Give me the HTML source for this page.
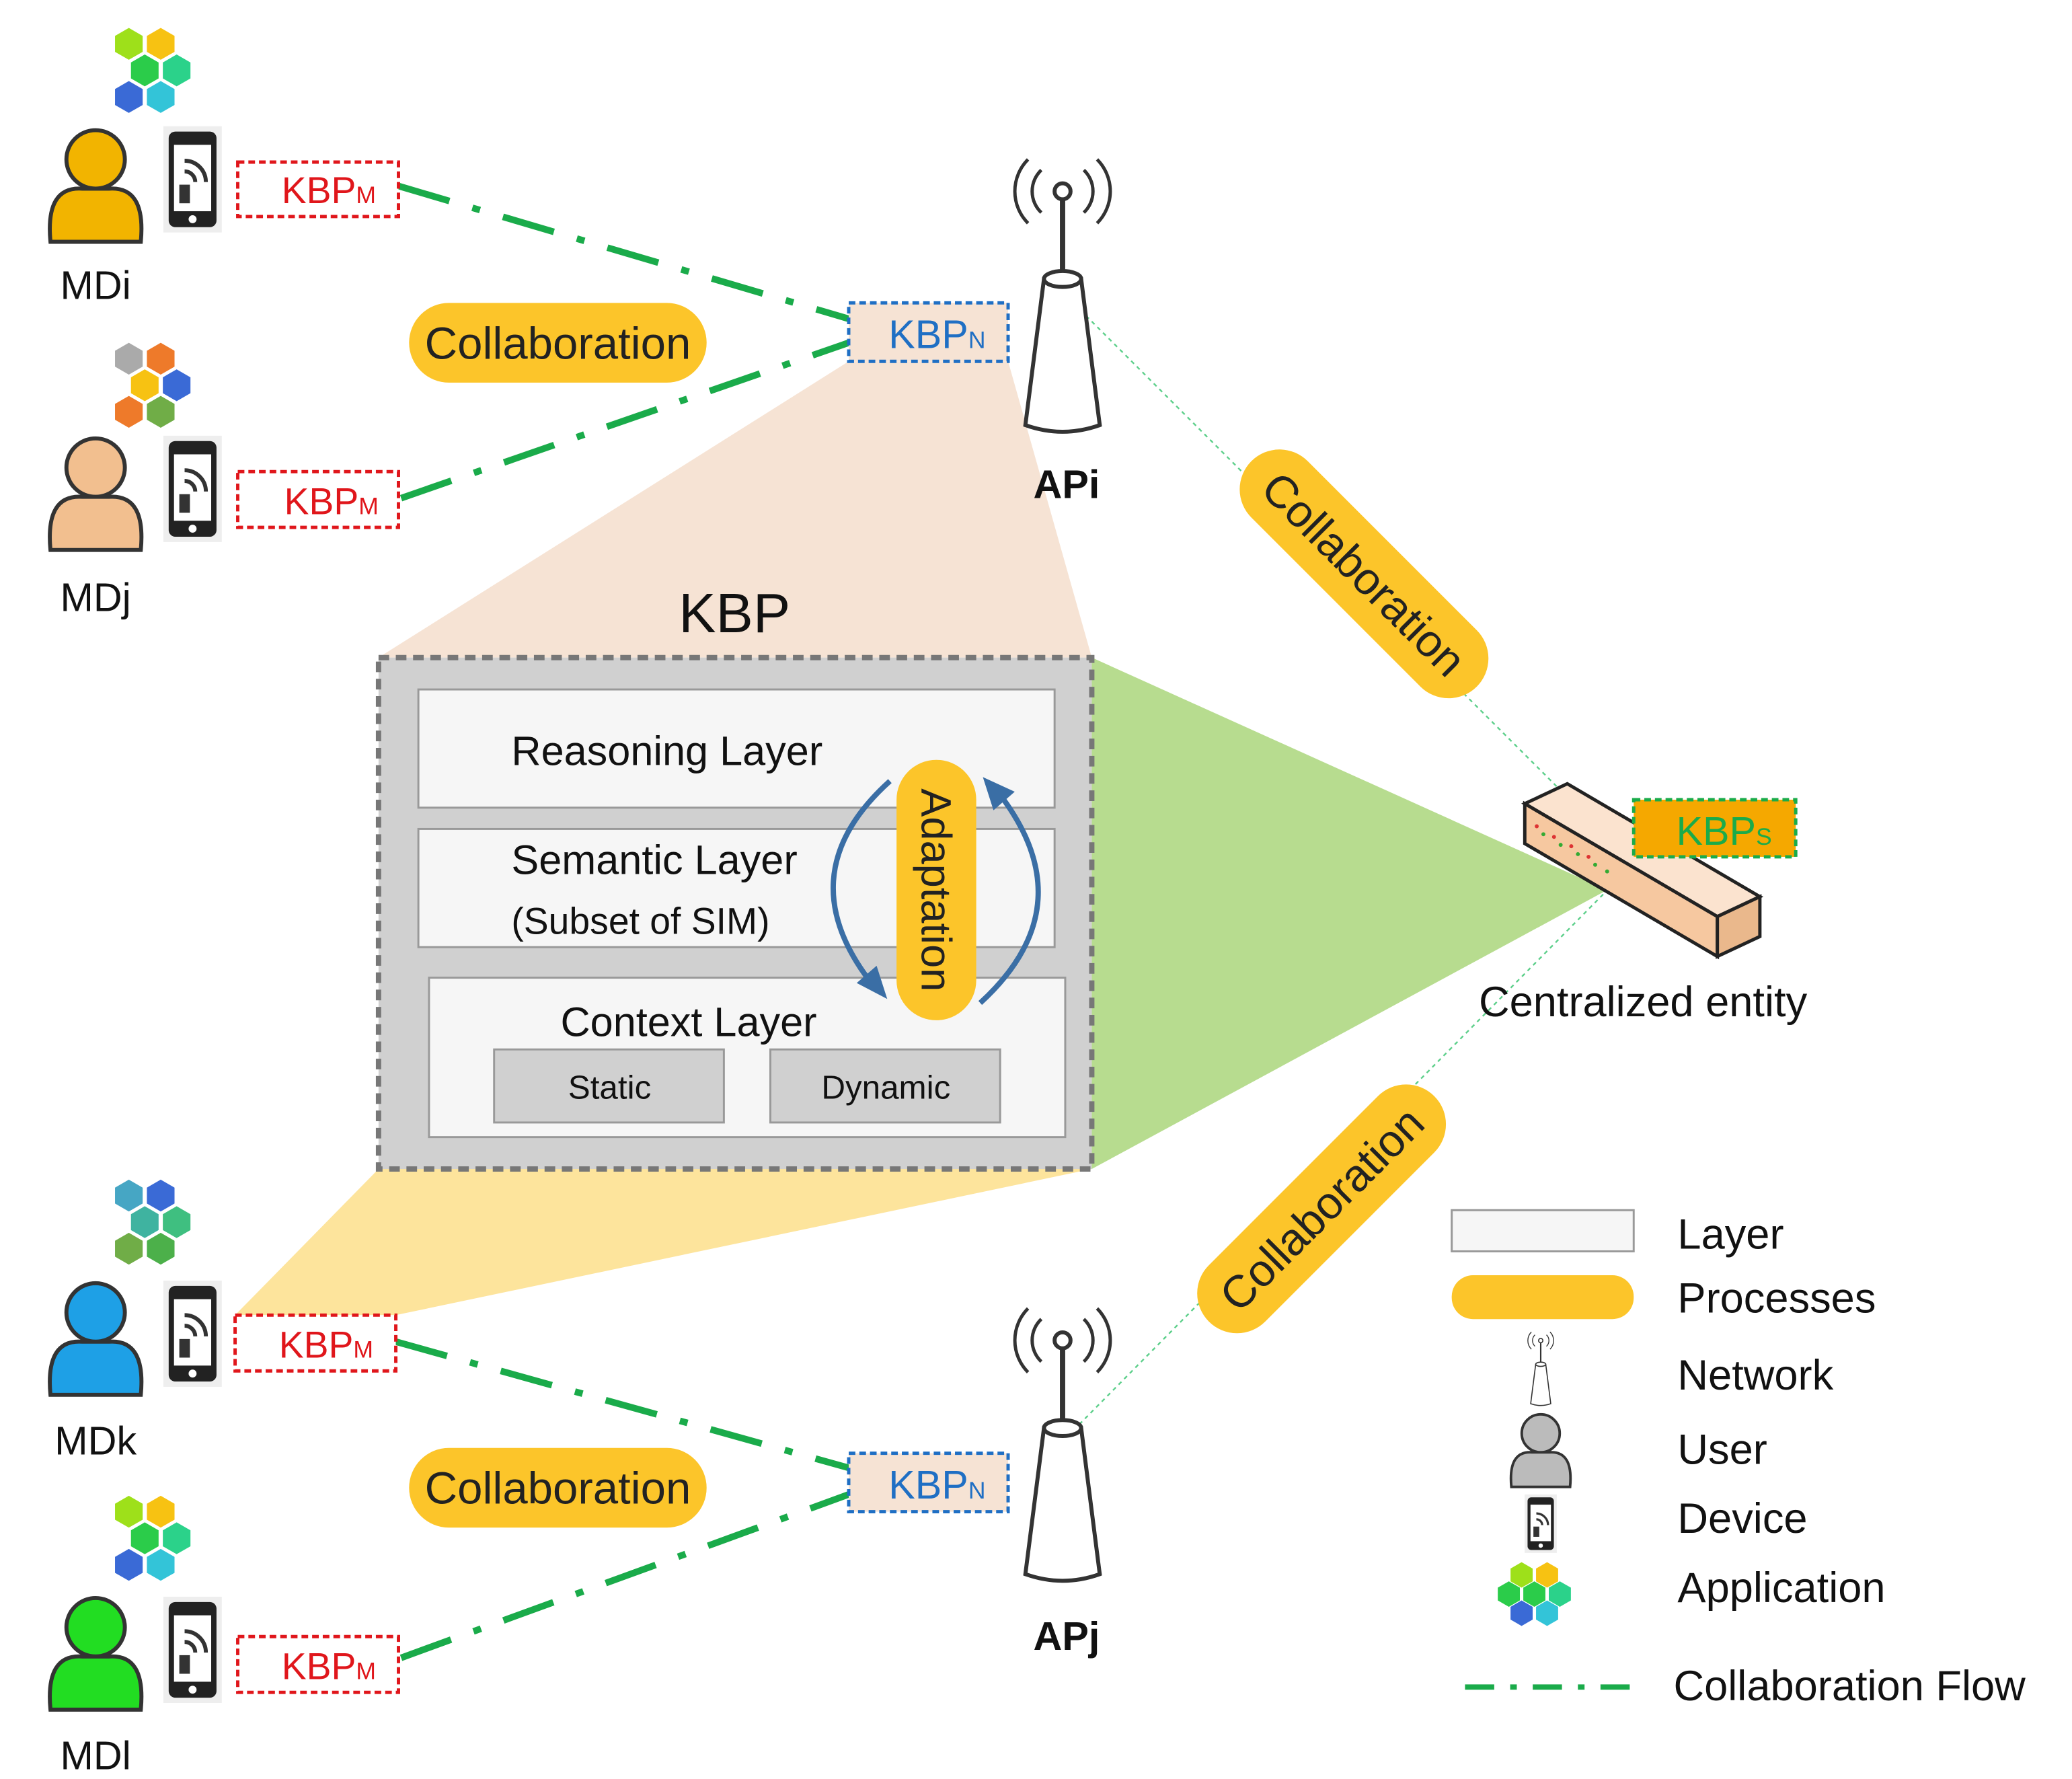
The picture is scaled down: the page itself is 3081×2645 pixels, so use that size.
<!DOCTYPE html>
<html><head><meta charset="utf-8"><style>
html,body{margin:0;padding:0;background:#fff;}
svg{display:block;}
text{font-family:"Liberation Sans",sans-serif;}
</style></head><body>
<svg width="3081" height="2645" viewBox="0 0 1560 1339.2" xmlns="http://www.w3.org/2000/svg">
<defs>
<g id="hex"><polygon points="0,-12 10.4,-6 10.4,6 0,12 -10.4,6 -10.4,-6"/></g>
<g id="phone">
<rect x="-22" y="-40" width="44" height="80" fill="#eee"/>
<rect x="-18" y="-36" width="36" height="72" rx="5" fill="#222"/>
<rect x="-14" y="-26" width="28" height="50" fill="#fff"/>
<path d="M-6,-14 a16,16 0 0 1 16,16 M-6,-6 a8,8 0 0 1 8,8" stroke="#333" stroke-width="3" fill="none"/>
<rect x="-10" y="4" width="8" height="14" fill="#333"/>
<circle cx="0" cy="30" r="3" fill="#fff"/>
</g>
<g id="antenna">
<line x1="0" y1="-62" x2="0" y2="-2" stroke="#333" stroke-width="4"/>
<circle cx="0" cy="-66" r="6" fill="#fff" stroke="#333" stroke-width="3"/>
<path d="M-16,-82 a22,22 0 0 0 0,32 M16,-82 a22,22 0 0 1 0,32 M-26,-90 a34,34 0 0 0 0,48 M26,-90 a34,34 0 0 1 0,48" stroke="#333" stroke-width="2.5" fill="none"/>
<path d="M-14,0 L14,0 L28,110 Q0,120 -28,110 Z" fill="#fff" stroke="#333" stroke-width="3"/>
<ellipse cx="0" cy="0" rx="14" ry="6" fill="#fff" stroke="#333" stroke-width="3"/>
</g>
</defs>

<polygon points="639,272 759,272 822,495 285,495" fill="#f6e3d4"/>
<polygon points="822,495 1210,670 822,880" fill="#b7dc8f"/>
<polygon points="285,880 822,880 298,990 177,990" fill="#fde49c"/>

<g stroke="#1aab4a" stroke-width="5" stroke-dasharray="40,18,6,18" fill="none">
<line x1="300" y1="140" x2="639" y2="240"/>
<line x1="302" y1="375" x2="639" y2="258"/>
<line x1="298" y1="1010" x2="639" y2="1105"/>
<line x1="302" y1="1248" x2="639" y2="1125"/>
</g>
<g stroke="#5ccf8a" stroke-width="1.2" stroke-dasharray="3,3" fill="none">
<line x1="805" y1="225" x2="1230" y2="650"/>
<line x1="800" y1="1085" x2="1230" y2="650"/>
</g>
<g fill="#1aab4a">
<polygon points="803,222 817,230 810,237"/>
<polygon points="1232,652 1218,644 1225,637"/>
<polygon points="800,1087 807,1073 814,1080"/>
<polygon points="1232,648 1225,662 1218,655"/>
</g>

<g transform="translate(72,140)"><circle cx="0" cy="-20" r="22" fill="#f2b400" stroke="#333" stroke-width="3"/><path d="M-34,42 Q-38,0 -10,2 L10,2 Q38,0 34,42 Z" fill="#f2b400" stroke="#333" stroke-width="3"/></g>
<g transform="translate(72,372)"><circle cx="0" cy="-20" r="22" fill="#f2bf8f" stroke="#333" stroke-width="3"/><path d="M-34,42 Q-38,0 -10,2 L10,2 Q38,0 34,42 Z" fill="#f2bf8f" stroke="#333" stroke-width="3"/></g>
<g transform="translate(72,1008)"><circle cx="0" cy="-20" r="22" fill="#1ea0e6" stroke="#333" stroke-width="3"/><path d="M-34,42 Q-38,0 -10,2 L10,2 Q38,0 34,42 Z" fill="#1ea0e6" stroke="#333" stroke-width="3"/></g>
<g transform="translate(72,1245)"><circle cx="0" cy="-20" r="22" fill="#22dd22" stroke="#333" stroke-width="3"/><path d="M-34,42 Q-38,0 -10,2 L10,2 Q38,0 34,42 Z" fill="#22dd22" stroke="#333" stroke-width="3"/></g>
<use href="#phone" transform="translate(145,135)"/>
<use href="#phone" transform="translate(145,368)"/>
<use href="#phone" transform="translate(145,1004)"/>
<use href="#phone" transform="translate(145,1242)"/>

<g transform="translate(115,55)">
<use href="#hex" x="-18" y="-22" fill="#9ee01a"/><use href="#hex" x="6" y="-22" fill="#f7c212"/>
<use href="#hex" x="-6" y="-2" fill="#2bcc4a"/><use href="#hex" x="18" y="-2" fill="#2bd28a"/>
<use href="#hex" x="-18" y="18" fill="#3a6ad6"/><use href="#hex" x="6" y="18" fill="#33c4d8"/>
</g>
<g transform="translate(115,292)">
<use href="#hex" x="-18" y="-22" fill="#aaa"/><use href="#hex" x="6" y="-22" fill="#ee7a2a"/>
<use href="#hex" x="-6" y="-2" fill="#f7c212"/><use href="#hex" x="18" y="-2" fill="#3a6ad6"/>
<use href="#hex" x="-18" y="18" fill="#ee7a2a"/><use href="#hex" x="6" y="18" fill="#70ad47"/>
</g>
<g transform="translate(115,922)">
<use href="#hex" x="-18" y="-22" fill="#46a6c4"/><use href="#hex" x="6" y="-22" fill="#3a6ad6"/>
<use href="#hex" x="-6" y="-2" fill="#3fb3a0"/><use href="#hex" x="18" y="-2" fill="#3fbf80"/>
<use href="#hex" x="-18" y="18" fill="#70ad47"/><use href="#hex" x="6" y="18" fill="#4cb04a"/>
</g>
<g transform="translate(115,1160)">
<use href="#hex" x="-18" y="-22" fill="#9ee01a"/><use href="#hex" x="6" y="-22" fill="#f7c212"/>
<use href="#hex" x="-6" y="-2" fill="#2bcc4a"/><use href="#hex" x="18" y="-2" fill="#2bd28a"/>
<use href="#hex" x="-18" y="18" fill="#3a6ad6"/><use href="#hex" x="6" y="18" fill="#33c4d8"/>
</g>

<g font-size="30" fill="#111" text-anchor="middle">
<text x="72" y="225">MDi</text><text x="72" y="460">MDj</text>
<text x="72" y="1095">MDk</text><text x="72" y="1332">MDl</text>
</g>

<g fill="#fff" stroke="#e0161b" stroke-width="2.5" stroke-dasharray="5,3">
<rect x="179" y="122" width="121" height="41"/>
<rect x="179" y="355" width="121" height="42"/>
<rect x="177" y="990" width="121" height="42"/>
<rect x="179" y="1232" width="121" height="42"/>
</g>
<g font-size="28" fill="#e0161b">
<text x="212" y="153">KBP<tspan font-size="18">M</tspan></text>
<text x="214" y="387">KBP<tspan font-size="18">M</tspan></text>
<text x="210" y="1022">KBP<tspan font-size="18">M</tspan></text>
<text x="212" y="1264">KBP<tspan font-size="18">M</tspan></text>
</g>

<g fill="#f6e3d4" stroke="#1f6fc4" stroke-width="2.5" stroke-dasharray="5,3">
<rect x="639" y="228" width="120" height="44"/>
<rect x="639" y="1094" width="120" height="44"/>
</g>
<g font-size="30" fill="#1f6fc4">
<text x="669" y="262">KBP<tspan font-size="18">N</tspan></text>
<text x="669" y="1128">KBP<tspan font-size="18">N</tspan></text>
</g>

<use href="#antenna" transform="translate(800,210)"/>
<use href="#antenna" transform="translate(800,1075)"/>
<g font-size="30" font-weight="bold" text-anchor="middle" fill="#111">
<text x="803" y="375">APi</text><text x="803" y="1242">APj</text>
</g>

<g fill="#fcc52a">
<rect x="308" y="228" width="224" height="60" rx="30"/>
<rect x="308" y="1090" width="224" height="60" rx="30"/>
<rect x="-120" y="-30" width="240" height="60" rx="30" transform="translate(1027,432) rotate(45)"/>
<rect x="-120" y="-30" width="240" height="60" rx="30" transform="translate(995,910) rotate(-45)"/>
</g>
<g font-size="34" fill="#222" text-anchor="middle">
<text x="420" y="270">Collaboration</text>
<text x="420" y="1132">Collaboration</text>
<text transform="translate(1027,432) rotate(45)" y="12">Collaboration</text>
<text transform="translate(995,910) rotate(-45)" y="12">Collaboration</text>
</g>

<text x="553" y="476" font-size="42" text-anchor="middle" fill="#111">KBP</text>
<rect x="285" y="495" width="537" height="385" fill="#d0d0d0" stroke="#777" stroke-width="4" stroke-dasharray="8,5"/>
<rect x="315" y="519" width="479" height="89" fill="#f6f6f6" stroke="#999" stroke-width="1.5"/>
<rect x="315" y="624" width="479" height="89" fill="#f6f6f6" stroke="#999" stroke-width="1.5"/>
<rect x="323" y="736" width="479" height="120" fill="#f6f6f6" stroke="#999" stroke-width="1.5"/>
<rect x="372" y="790" width="173" height="55" fill="#d0d0d0" stroke="#999" stroke-width="1.5"/>
<rect x="580" y="790" width="173" height="55" fill="#d0d0d0" stroke="#999" stroke-width="1.5"/>
<g font-size="31" fill="#111">
<text x="385" y="576">Reasoning Layer</text>
<text x="385" y="658">Semantic Layer</text>
<text x="385" y="703" font-size="28">(Subset of SIM)</text>
<text x="422" y="780">Context Layer</text>
</g>
<g font-size="25" fill="#111" text-anchor="middle">
<text x="459" y="827">Static</text><text x="667" y="827">Dynamic</text>
</g>
<g stroke="#3a6ea5" stroke-width="4" fill="none">
<path d="M670,588 Q590,660 660,745"/>
<path d="M738,755 Q820,680 748,592"/>
</g>
<polygon points="668,752 645,740 660,727" fill="#3a6ea5"/>
<polygon points="740,585 764,596 748,610" fill="#3a6ea5"/>
<rect x="675" y="572" width="60" height="196" rx="30" fill="#fcc52a"/>
<text transform="translate(705,670) rotate(90)" y="11" font-size="32" text-anchor="middle" fill="#222">Adaptation</text>

<polygon points="1148,605 1180,590 1325,675 1293,690" fill="#fbe3cf" stroke="#222" stroke-width="2.5"/>
<polygon points="1148,605 1293,690 1293,720 1148,635" fill="#f6c8a0" stroke="#222" stroke-width="2.5"/>
<polygon points="1293,690 1325,675 1325,705 1293,720" fill="#eab88c" stroke="#222" stroke-width="2.5"/>
<g fill="#d33">
<circle cx="1157" cy="622" r="1.5"/><circle cx="1170" cy="630" r="1.5"/><circle cx="1183" cy="637" r="1.5"/><circle cx="1196" cy="645" r="1.5"/>
</g>
<g fill="#3a3">
<circle cx="1162" cy="628" r="1.5"/><circle cx="1175" cy="636" r="1.5"/><circle cx="1188" cy="643" r="1.5"/><circle cx="1201" cy="651" r="1.5"/><circle cx="1210" cy="656" r="1.5"/>
</g>
<rect x="1230" y="602" width="122" height="43" fill="#f5a800" stroke="#1aab4a" stroke-width="2.5" stroke-dasharray="5,3"/>
<text x="1262" y="636" font-size="30" fill="#1aab4a">KBP<tspan font-size="18">S</tspan></text>
<text x="1237" y="765" font-size="32" text-anchor="middle" fill="#111">Centralized entity</text>

<rect x="1093" y="911" width="137" height="31" fill="#f6f6f6" stroke="#999" stroke-width="1.5"/>
<rect x="1093" y="960" width="137" height="33" rx="16" fill="#fcc52a"/>
<g transform="translate(1160,1027) scale(0.27)"><use href="#antenna"/></g>
<g transform="translate(1160,1092) scale(0.65)"><circle cx="0" cy="-20" r="22" fill="#bbb" stroke="#333" stroke-width="3"/><path d="M-34,42 Q-38,0 -10,2 L10,2 Q38,0 34,42 Z" fill="#bbb" stroke="#333" stroke-width="3"/></g>
<use href="#phone" transform="translate(1160,1147) scale(0.55)"/>
<g transform="translate(1160,1200) scale(0.8)">
<use href="#hex" x="-18" y="-18" fill="#9ee01a"/><use href="#hex" x="6" y="-18" fill="#f7c212"/>
<use href="#hex" x="-30" y="0" fill="#2bcc4a"/><use href="#hex" x="-6" y="0" fill="#2bcc4a"/><use href="#hex" x="18" y="0" fill="#2bd28a"/>
<use href="#hex" x="-18" y="18" fill="#3a6ad6"/><use href="#hex" x="6" y="18" fill="#33c4d8"/>
</g>
<line x1="1103" y1="1270" x2="1228" y2="1270" stroke="#1aab4a" stroke-width="4" stroke-dasharray="22,12,5,12"/>
<g font-size="32" fill="#111">
<text x="1263" y="940">Layer</text>
<text x="1263" y="988">Processes</text>
<text x="1263" y="1046">Network</text>
<text x="1263" y="1102">User</text>
<text x="1263" y="1154">Device</text>
<text x="1263" y="1206">Application</text>
<text x="1260" y="1280">Collaboration Flow</text>
</g>
</svg>
</body></html>
